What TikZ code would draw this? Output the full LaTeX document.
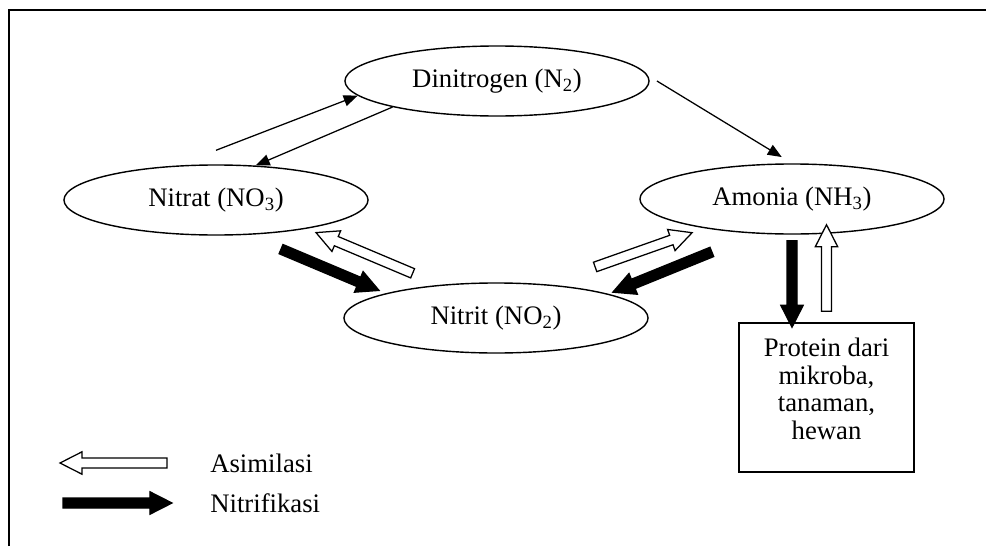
\documentclass[tikz,border=0pt]{standalone}
\usepackage{fontspec}
\setmainfont{Liberation Serif}
\usetikzlibrary{shapes.geometric,arrows.meta,calc}

\tikzset{
	senyawa/.style={draw, ellipse, line width=1pt, minimum width=7.6cm, minimum height=1.75cm, inner sep=0pt},
	kotak/.style={draw, line width=1pt, minimum width=4.375cm, minimum height=3.725cm, align=center, inner sep=0pt},
	tipis/.style={line width=0.9pt, -{Triangle[length=0.35cm,width=0.28cm]}},
	legenda/.style={anchor=west, inner sep=0pt},
}

% fat arrow: #1 fill, #2 tail, #3 tip
\newcommand{\panahtebal}[3]{%
	\path #2 coordinate (pt) #3 coordinate (ph);
	\coordinate (pb) at ($(ph)!0.55cm!(pt)$);
	\draw[fill=#1, line width=0.9pt]
		($(pt)!0.125cm!90:(ph)$) -- ($(pb)!0.125cm!90:(ph)$) -- ($(pb)!0.28cm!90:(ph)$) -- (ph)
		-- ($(pb)!0.28cm!-90:(ph)$) -- ($(pb)!0.125cm!-90:(ph)$) -- ($(pt)!0.125cm!-90:(ph)$) -- cycle;
}

\begin{document}
\begin{tikzpicture}[x=0.025cm, y=-0.025cm, font=\fontsize{19}{19.5}\selectfont]
		\useasboundingbox (0,0) rectangle (986,546);

		% frame
		\draw[line width=1.4pt] (9,546) -- (9,10) -- (986,10);

		% compounds
		\node[senyawa] (dinit) at (497,81) {Dinitrogen (N\textsubscript{2})};
		\node[senyawa] (nitrat) at (216,200) {Nitrat (NO\textsubscript{3})};
		\node[senyawa] (amonia) at (792,199) {Amonia (NH\textsubscript{3})};
		\node[senyawa] (nitrit) at (496,318) {Nitrit (NO\textsubscript{2})};
		\node[kotak] (protein) at (826.5,397.5) {Protein dari\\mikroba,\\tanaman,\\hewan\\[-0.25cm]};

		% thin arrows
		\draw[tipis] ([yshift=0.35cm]nitrat.north) -- (dinit.186);
		\draw[tipis] (dinit.194) -- (nitrat.41);
		\draw[tipis, shorten >=0.3cm] ([xshift=0.18cm]dinit.east) -- (amonia.north);

		% nitrat - nitrit
		\panahtebal{black}{($(nitrat)!0.26!(nitrit)!0.5cm!-90:(nitrit)$)}{($(nitrat)!0.61!(nitrit)!0.5cm!-90:(nitrit)$)}
		\panahtebal{white}{($(nitrat)!0.69!(nitrit)!0.22cm!90:(nitrit)$)}{($(nitrat)!0.345!(nitrit)!0.22cm!90:(nitrit)$)}

		% nitrit - amonia
		\panahtebal{white}{($(nitrit)!0.348!(amonia)!0.26cm!90:(amonia)$)}{($(nitrit)!0.67!(amonia)!0.15cm!90:(amonia)$)}
		\panahtebal{black}{($(nitrit)!0.705!(amonia)!0.48cm!-90:(amonia)$)}{($(nitrit)!0.37!(amonia)!0.49cm!-90:(amonia)$)}

		% amonia - protein
		\panahtebal{black}{($(amonia.south)+(0,6)$)}{($(amonia.south |- protein.north)+(0,5)$)}
		\panahtebal{white}{($(protein.north)+(0,-11)$)}{($(protein.north |- amonia.south)+(0,-10)$)}

		% legend
		\node[legenda] (asim) at (210,463) {Asimilasi};
		\node[legenda] (nitri) at (210,503) {Nitrifikasi};
		\panahtebal{white}{($(asim.west)+(-43,0)$)}{($(asim.west)+(-150,0)$)}
		\panahtebal{black}{($(nitri.west)+(-147,0)$)}{($(nitri.west)+(-38,0)$)}
\end{tikzpicture}
\end{document}
